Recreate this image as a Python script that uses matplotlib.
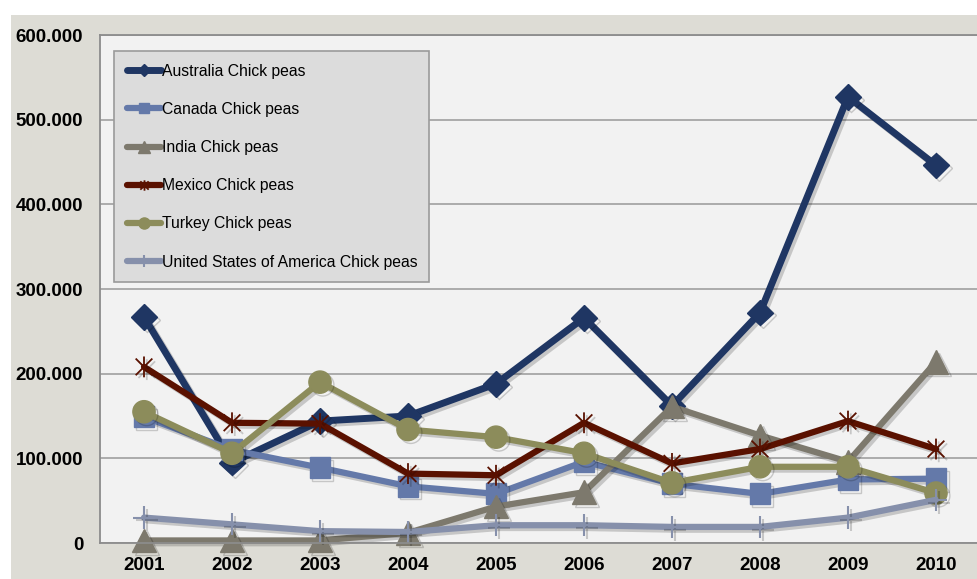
import matplotlib
matplotlib.use("Agg")
import matplotlib.pyplot as plt
import matplotlib.patheffects as pe
from matplotlib.patches import Rectangle
from matplotlib.path import Path
from matplotlib.ticker import FuncFormatter, MultipleLocator

plt.rcParams['font.family'] = ['Liberation Sans', 'DejaVu Sans']

# chick pea production by country (tonnes)
years = ['2001', '2002', '2003', '2004', '2005', '2006', '2007', '2008', '2009', '2010']
australia = [267000, 95000, 144000, 150000, 188000, 266000, 162000, 272000, 527000, 446000]
canada = [149000, 110000, 89000, 67000, 58000, 96000, 70000, 58000, 75000, 76000]
india = [3000, 3000, 3000, 12000, 43000, 60000, 161000, 127000, 96000, 214000]
mexico = [208000, 142000, 141000, 82000, 80000, 142000, 94000, 111000, 144000, 111000]
turkey = [155000, 106000, 190000, 134000, 125000, 106000, 71000, 90000, 90000, 59000]
usa = [30000, 22000, 14000, 13000, 21000, 21000, 19000, 19000, 30000, 51000]

# excel-style star: an x with a vertical bar through it
star = Path([(-1, -1), (1, 1), (-1, 1), (1, -1), (0, -1.25), (0, 1.25)],
            [Path.MOVETO, Path.LINETO, Path.MOVETO, Path.LINETO, Path.MOVETO, Path.LINETO])

series = [
    ('Australia Chick peas', australia, '#1f3663', 'D', 13, 5.0),
    ('Canada Chick peas', canada, '#6479a9', 's', 15, 4.5),
    ('India Chick peas', india, '#7d796d', '^', 17, 4.5),
    ('Mexico Chick peas', mexico, '#5a1100', star, 15, 4.5),
    ('Turkey Chick peas', turkey, '#8c8c5b', 'o', 16, 4.5),
    ('United States of America Chick peas', usa, '#8690ab', '+', 16, 4.5),
]

fig = plt.figure(figsize=(9.77, 5.79), dpi=100)
fig.patch.set_facecolor('white')
fig.add_artist(Rectangle((11 / 977, 0), 1, 1 - 15 / 579, transform=fig.transFigure,
                         facecolor='#dddcd5', edgecolor='none', zorder=-5))

ax = fig.add_axes([100 / 977, 36 / 579, 880 / 977, 508 / 579])
ax.set_zorder(1)
ax.set_facecolor('#f2f2f2')

x = list(range(len(years)))
shadow = [pe.SimpleLineShadow(offset=(2, -2), shadow_color='black', alpha=0.18), pe.Normal()]
for label, vals, color, marker, ms, lw in series:
    mew = 1.5 if marker in ('+',) else (1.3 if marker is star else 1)
    ax.plot(x, vals, color=color, lw=lw, marker=marker, markersize=ms,
            markerfacecolor=color, markeredgecolor=color, markeredgewidth=mew,
            label=label, solid_capstyle='round', path_effects=shadow, clip_on=False)

ax.set_xlim(-0.5, len(years) - 0.5)
ax.set_ylim(0, 600000)
ax.yaxis.set_major_locator(MultipleLocator(100000))
ax.yaxis.set_major_formatter(FuncFormatter(lambda v, p: f'{int(v):,}'.replace(',', '.')))
ax.set_xticks(x)
ax.set_xticklabels(years)
ax.grid(axis='y', color='#a0a0a0', lw=1.2)
ax.set_axisbelow(True)
ax.tick_params(length=0, labelsize=13.5, colors='black')
ax.tick_params(axis='y', pad=12)
ax.tick_params(axis='x', pad=10)
for lbl in ax.get_xticklabels() + ax.get_yticklabels():
    lbl.set_fontweight('bold')
for side in ('left', 'bottom', 'top'):
    ax.spines[side].set_color('#8c8c8c')
    ax.spines[side].set_linewidth(1.3)
ax.spines['right'].set_visible(False)

leg = ax.legend(loc='upper left', bbox_to_anchor=(14 / 880, 0.3, 315 / 880, (543 - 51) / 508 - 0.3),
                mode='expand', borderaxespad=0, fontsize=11.3, frameon=True, fancybox=False,
                facecolor='#dcdcdc', edgecolor='#9a9a9a', framealpha=1,
                handlelength=2.2, handletextpad=0.05, labelspacing=1.48, borderpad=0.8,
                markerscale=0.5)
leg.get_frame().set_linewidth(1.2)
for h in leg.legend_handles:
    h.set_path_effects([])

fig.savefig('out.png', dpi=100)
